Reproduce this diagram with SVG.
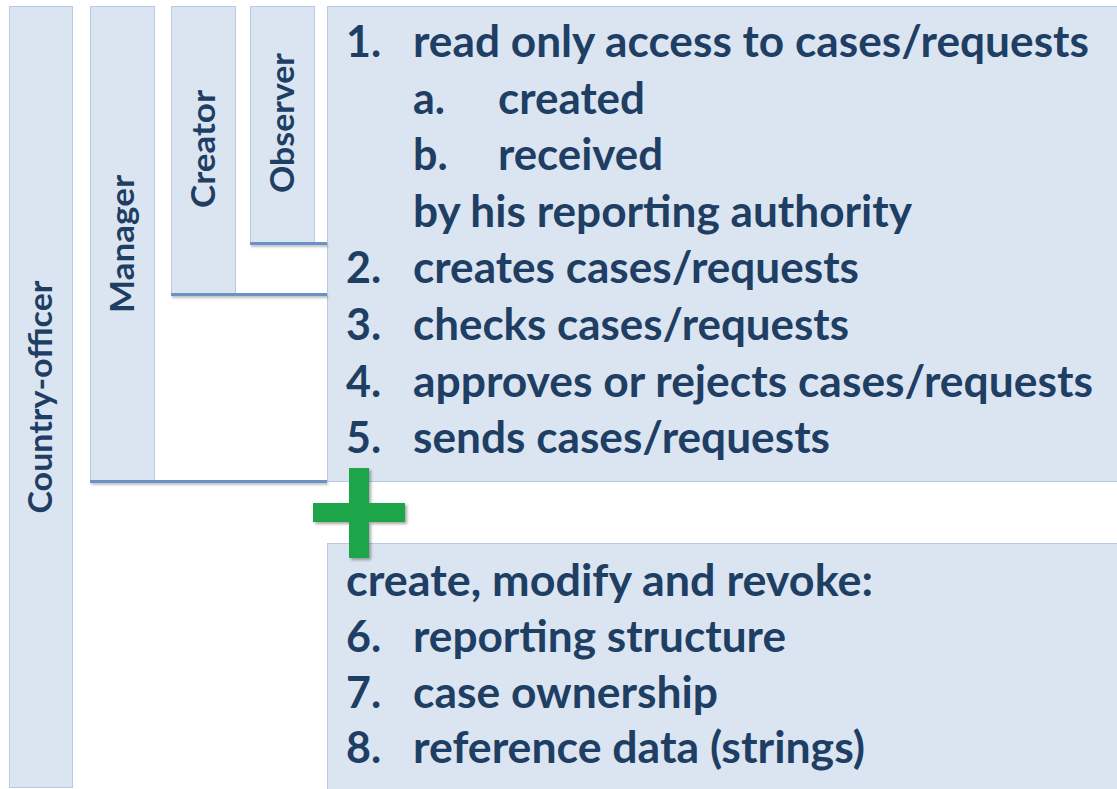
<svg xmlns="http://www.w3.org/2000/svg" width="1117" height="789" viewBox="0 0 1117 789">
  <defs>
    <style>
      .box { fill: #dbe5f1; stroke: #b7cae2; stroke-width: 1; }
      .txt { font-family: Lato, "Open Sans", "Liberation Sans", sans-serif; font-weight: 700; fill: #1f3e64; font-size: 43px; }
      .lbl { font-family: Lato, "Open Sans", "Liberation Sans", sans-serif; font-weight: 700; fill: #1f3e64; font-size: 32px; text-anchor: middle; }
      .rule { fill: #6a92c4; filter: url(#sh); }
      .plus { fill: #1fa64a; filter: url(#shp); }
    </style>
    <filter id="sh" filterUnits="userSpaceOnUse" x="0" y="0" width="1117" height="789">
      <feDropShadow dx="1" dy="2" stdDeviation="1" flood-color="#000" flood-opacity="0.25"/>
    </filter>
    <filter id="shp" x="-20%" y="-20%" width="140%" height="140%">
      <feDropShadow dx="2" dy="2" stdDeviation="1.5" flood-color="#000" flood-opacity="0.35"/>
    </filter>
  </defs>
  <rect width="1117" height="789" fill="#ffffff"/>

  <g id="country-officer">
    <rect class="box" x="9.5" y="6.5" width="63" height="781"/>
    <text class="lbl" transform="translate(52,397) rotate(-90)" textLength="233" lengthAdjust="spacingAndGlyphs">Country-officer</text>
  </g>

  <g id="manager">
    <rect class="box" x="90.5" y="6.5" width="64" height="475"/>
    <text class="lbl" transform="translate(134,244) rotate(-90)" textLength="138" lengthAdjust="spacingAndGlyphs">Manager</text>
  </g>

  <g id="creator">
    <rect class="box" x="171.5" y="6.5" width="64" height="287"/>
    <text class="lbl" transform="translate(215,149) rotate(-90)" textLength="118" lengthAdjust="spacingAndGlyphs">Creator</text>
  </g>

  <g id="observer">
    <rect class="box" x="250.5" y="6.5" width="64" height="236"/>
    <text class="lbl" transform="translate(294,123) rotate(-90)" textLength="140" lengthAdjust="spacingAndGlyphs">Observer</text>
  </g>

  <g id="permissions">
    <rect class="box" x="327.5" y="6.5" width="795" height="475"/>
    <text class="txt" x="346" y="57">1.</text>
    <text class="txt" x="413" y="57" textLength="676" lengthAdjust="spacingAndGlyphs">read only access to cases/requests</text>
    <text class="txt" x="413" y="114">a.</text>
    <text class="txt" x="498" y="114" textLength="147" lengthAdjust="spacingAndGlyphs">created</text>
    <text class="txt" x="413" y="170">b.</text>
    <text class="txt" x="498" y="170" textLength="165" lengthAdjust="spacingAndGlyphs">received</text>
    <text class="txt" x="413" y="227" textLength="499" lengthAdjust="spacingAndGlyphs">by his reporting authority</text>
    <text class="txt" x="346" y="283">2.</text>
    <text class="txt" x="413" y="283" textLength="446" lengthAdjust="spacingAndGlyphs">creates cases/requests</text>
    <text class="txt" x="346" y="340">3.</text>
    <text class="txt" x="413" y="340" textLength="436" lengthAdjust="spacingAndGlyphs">checks cases/requests</text>
    <text class="txt" x="346" y="397">4.</text>
    <text class="txt" x="413" y="397" textLength="680" lengthAdjust="spacingAndGlyphs">approves or rejects cases/requests</text>
    <text class="txt" x="346" y="453">5.</text>
    <text class="txt" x="413" y="453" textLength="417" lengthAdjust="spacingAndGlyphs">sends cases/requests</text>
  </g>

  <g id="admin-permissions">
    <rect class="box" x="327.5" y="543.5" width="795" height="250"/>
    <text class="txt" x="346" y="596" textLength="527" lengthAdjust="spacingAndGlyphs">create, modify and revoke:</text>
    <text class="txt" x="346" y="652">6.</text>
    <text class="txt" x="413" y="652" textLength="373" lengthAdjust="spacingAndGlyphs">reporting structure</text>
    <text class="txt" x="346" y="708">7.</text>
    <text class="txt" x="413" y="708" textLength="305" lengthAdjust="spacingAndGlyphs">case ownership</text>
    <text class="txt" x="346" y="763">8.</text>
    <text class="txt" x="413" y="763" textLength="452" lengthAdjust="spacingAndGlyphs">reference data (strings)</text>
  </g>

  <g id="connectors">
    <rect class="rule" x="250" y="242" width="77" height="3"/>
    <rect class="rule" x="171" y="293" width="156" height="3"/>
    <rect class="rule" x="90" y="480" width="237" height="3"/>
  </g>

  <g id="plus">
    <path class="plus" d="M349 468 H369 V503 H405 V522 H369 V558 H349 V522 H313 V503 H349 Z"/>
  </g>
</svg>
